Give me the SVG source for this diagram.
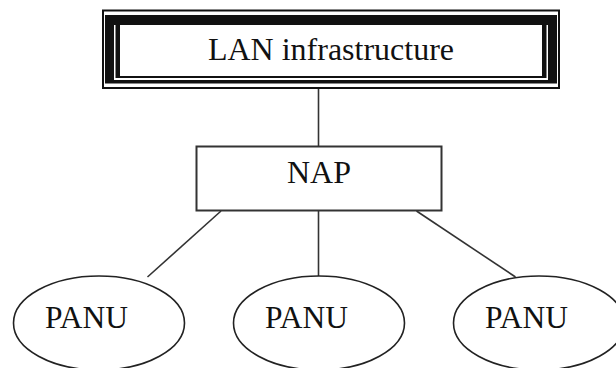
<svg xmlns="http://www.w3.org/2000/svg" width="616" height="368" viewBox="0 0 616 368">
<style>
.t{font-family:"Liberation Serif","Times New Roman",serif;fill:#111;}
.ln{stroke:#333;stroke-width:1.6;fill:none;}
.box{fill:#fff;stroke:#333;stroke-width:2;}
.ell{fill:#fff;stroke:#222;stroke-width:1.6;}
</style>
<rect width="616" height="368" fill="#fff"/>
<g id="connectors">
<line class="ln" x1="318.5" y1="89" x2="318.5" y2="146.5"/>
<line class="ln" x1="318.5" y1="210.5" x2="318.5" y2="277"/>
<line class="ln" x1="221" y1="211" x2="147.5" y2="277"/>
<line class="ln" x1="416.5" y1="211" x2="515.5" y2="277"/>
</g>
<g id="lan">
<rect x="103" y="10.5" width="456" height="77.5" fill="#fff" stroke="#111" stroke-width="2"/>
<rect x="105" y="15" width="452" height="68.5" fill="#111"/>
<rect x="114" y="25" width="434" height="55" fill="#fff"/>
<rect x="115.5" y="25" width="431" height="53" fill="#111"/>
<rect x="120" y="25" width="422" height="51" fill="#fff"/>
<text class="t" x="331" y="60" font-size="32" text-anchor="middle">LAN infrastructure</text>
</g>
<g id="nap">
<rect class="box" x="196.5" y="146.5" width="245" height="64"/>
<text class="t" x="319" y="183" font-size="32" text-anchor="middle">NAP</text>
</g>
<g id="panu1">
<ellipse class="ell" cx="99" cy="323" rx="85.5" ry="47"/>
<text class="t" x="86.5" y="327.5" font-size="31.5" text-anchor="middle">PANU</text>
</g>
<g id="panu2">
<ellipse class="ell" cx="319" cy="323" rx="85.5" ry="47"/>
<text class="t" x="306.5" y="327.5" font-size="31.5" text-anchor="middle">PANU</text>
</g>
<g id="panu3">
<ellipse class="ell" cx="539" cy="323" rx="85.5" ry="47"/>
<text class="t" x="526.5" y="327.5" font-size="31.5" text-anchor="middle">PANU</text>
</g>
</svg>
